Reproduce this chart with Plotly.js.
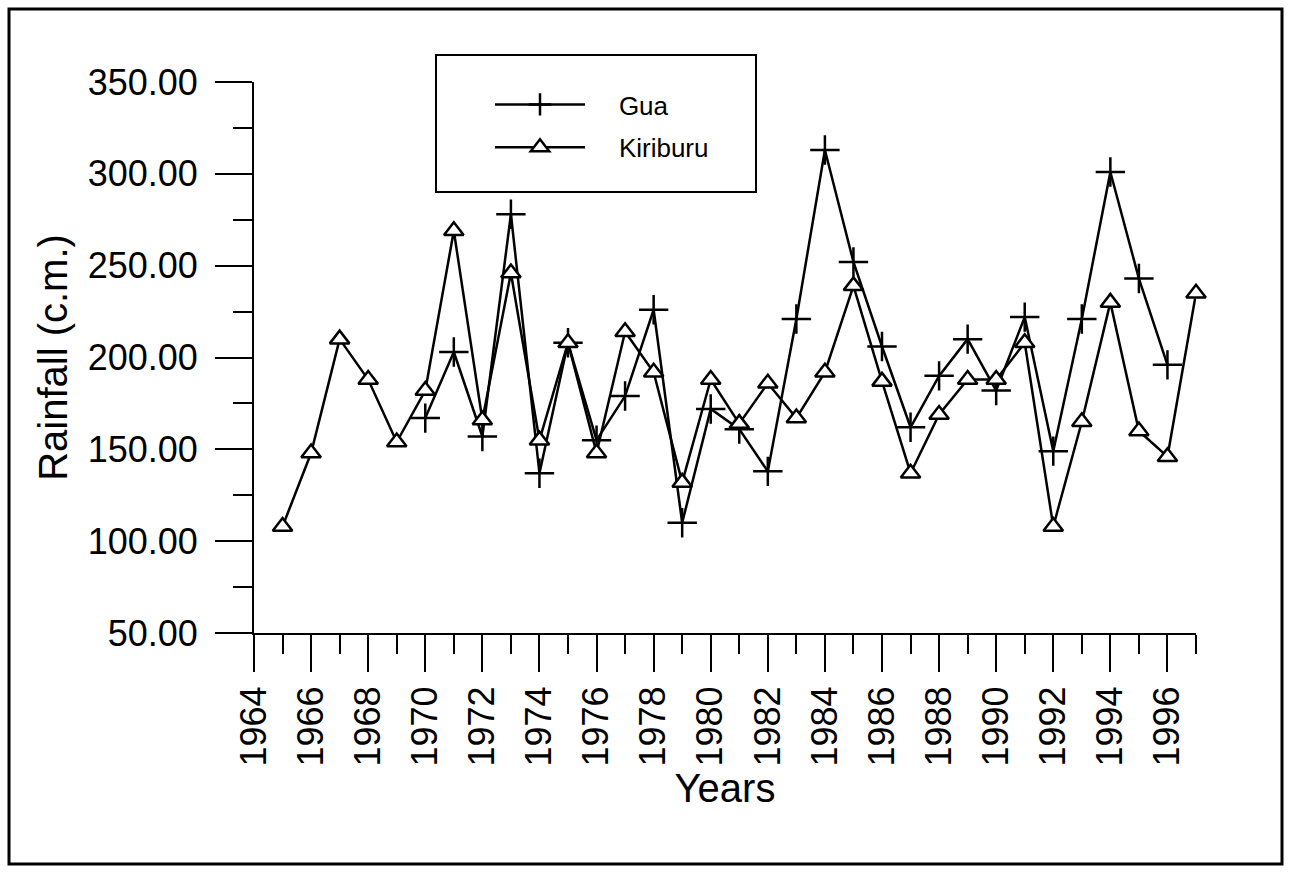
<!DOCTYPE html>
<html>
<head>
<meta charset="utf-8">
<script src="https://cdn.plot.ly/plotly-3.0.1.min.js"></script>
<style>
  html, body { margin: 0; padding: 0; background: #fff; }
  #chart { width: 1290px; height: 872px; }
</style>
</head>
<body>
<div id="chart"></div>
<script>
// Annual rainfall (c.m.) at two stations
const kiriburuYears = [1965, 1966, 1967, 1968, 1969, 1970, 1971, 1972, 1973, 1974, 1975,
                       1976, 1977, 1978, 1979, 1980, 1981, 1982, 1983, 1984, 1985, 1986,
                       1987, 1988, 1989, 1990, 1991, 1992, 1993, 1994, 1995, 1996, 1997];
const kiriburuRain  = [108, 148, 210, 188, 154, 182, 269, 166, 246, 155, 208,
                       148, 214, 192, 132, 188, 164, 186, 167, 192, 239, 187,
                       137, 169, 188, 188, 208, 108, 165, 230, 160, 146, 235];

const guaYears = [1970, 1971, 1972, 1973, 1974, 1975, 1976, 1977, 1978, 1979, 1980,
                  1981, 1982, 1983, 1984, 1985, 1986, 1987, 1988, 1989, 1990, 1991,
                  1992, 1993, 1994, 1995, 1996];
const guaRain  = [167, 203, 157, 278, 137, 208, 155, 179, 226, 110, 172,
                  161, 138, 221, 313, 252, 206, 162, 190, 210, 182, 222,
                  149, 221, 301, 243, 196];

const seriesNames = ['Gua', 'Kiriburu'];
const yTickVals = [50, 100, 150, 200, 250, 300, 350];
const xTickVals = [1964, 1966, 1968, 1970, 1972, 1974, 1976, 1978, 1980,
                   1982, 1984, 1986, 1988, 1990, 1992, 1994, 1996];

const FONT = 'Liberation Sans, Arial, Helvetica, sans-serif';
const pad = '\u00a0\u00a0\u00a0\u00a0';

const traces = [
  {
    x: guaYears, y: guaRain, name: pad + seriesNames[0],
    type: 'scatter', mode: 'lines+markers', cliponaxis: false,
    line: { color: '#000', width: 2.5 },
    marker: { symbol: 'cross-thin-open', size: 21, color: '#000', line: { color: '#000', width: 2.5 } },
    legendgroup: 'g1'
  },
  {
    x: kiriburuYears, y: kiriburuRain, name: pad + seriesNames[1],
    type: 'scatter', mode: 'lines+markers', cliponaxis: false,
    line: { color: '#000', width: 2.5 },
    marker: { symbol: 'triangle-up', size: 17, color: '#fff', line: { color: '#000', width: 2.5 } },
    legendgroup: 'g2'
  }
];

const L = 254, R = 94, T = 82, B = 239;
const W = 1290, H = 872;
const pw = W - L - R, ph = H - T - B;
const px2x = p => (p - L) / pw;
const py2y = p => (H - B - p) / ph;

const layout = {
  width: W, height: H,
  margin: { l: L, r: R, t: T, b: B, pad: 0 },
  paper_bgcolor: '#fff', plot_bgcolor: '#fff',
  font: { family: FONT, color: '#000' },
  showlegend: true,
  legend: {
    x: px2x(490), y: py2y(81), xanchor: 'left', yanchor: 'top',
    bgcolor: 'rgba(0,0,0,0)', borderwidth: 0,
    font: { family: FONT, size: 26, color: '#000' },
    itemwidth: 90, traceorder: 'grouped', tracegroupgap: 6
  },
  xaxis: {
    range: [1964, 1997],
    tickmode: 'array', tickvals: xTickVals,
    ticks: 'outside', ticklen: 37, tickwidth: 2, tickcolor: '#000',
    tickangle: -90, tickfont: { family: FONT, size: 36, color: '#000' },
    minor: { tickmode: 'linear', tick0: 1964, dtick: 1, ticks: 'outside', ticklen: 19, tickwidth: 2, tickcolor: '#000', showgrid: false },
    showline: true, linecolor: '#000', linewidth: 2,
    showgrid: false, zeroline: false,
    title: { text: 'Years', font: { family: FONT, size: 40, color: '#000' }, standoff: 0 }
  },
  yaxis: {
    range: [50, 350],
    tickmode: 'array', tickvals: yTickVals, tickformat: '.2f',
    ticks: 'outside', ticklen: 37, tickwidth: 2, tickcolor: '#000',
    tickfont: { family: FONT, size: 36, color: '#000' },
    ticklabelstandoff: 10,
    minor: { tickmode: 'linear', tick0: 50, dtick: 25, ticks: 'outside', ticklen: 19, tickwidth: 2, tickcolor: '#000', showgrid: false },
    showline: true, linecolor: '#000', linewidth: 2,
    showgrid: false, zeroline: false,
    title: { text: 'Rainfall (c.m.)', font: { family: FONT, size: 40, color: '#000' }, standoff: 8 }
  },
  shapes: [
    // legend box
    { type: 'rect', xref: 'paper', yref: 'paper',
      x0: px2x(436), x1: px2x(756), y0: py2y(192), y1: py2y(55),
      line: { color: '#000', width: 2 }, fillcolor: 'rgba(0,0,0,0)', layer: 'below' },
    // outer frame
    { type: 'rect', xref: 'paper', yref: 'paper',
      x0: px2x(9), x1: px2x(1282), y0: py2y(864), y1: py2y(9),
      line: { color: '#000', width: 3 }, fillcolor: 'rgba(0,0,0,0)', layer: 'below' }
  ]
};

Plotly.newPlot('chart', traces, layout, { displayModeBar: false, staticPlot: true });
</script>
</body>
</html>
